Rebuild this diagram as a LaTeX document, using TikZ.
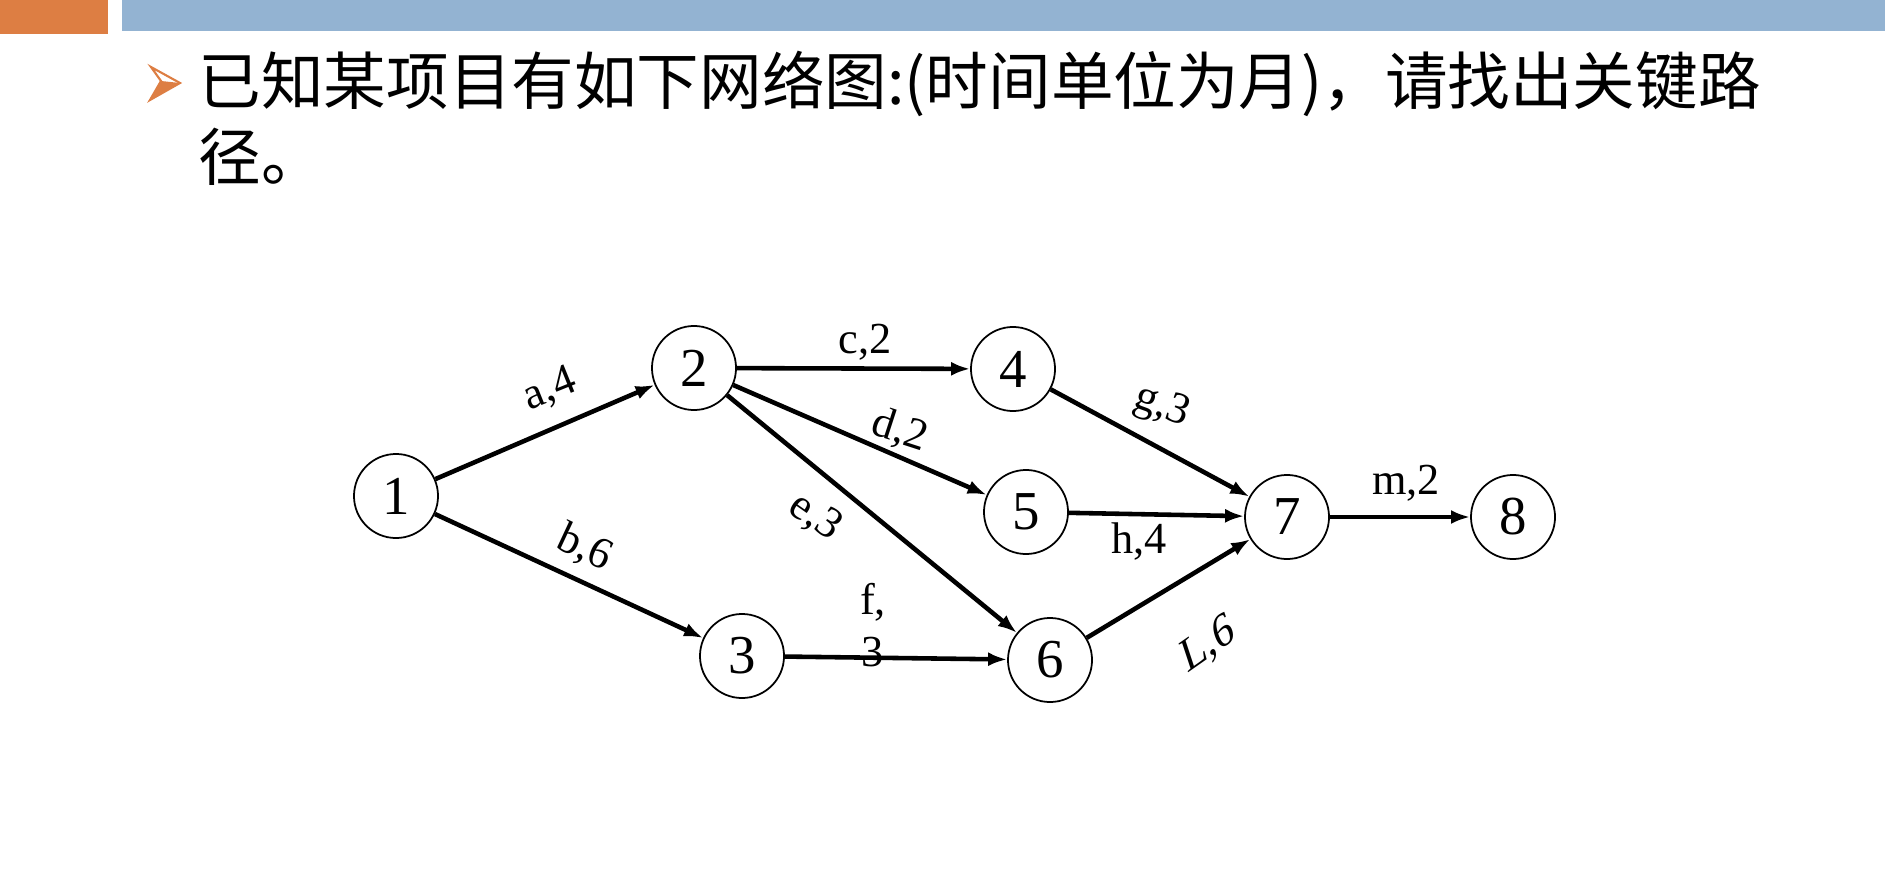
\documentclass[tikz,border=0pt]{standalone}
\usepackage{fontspec}
\setmainfont{Liberation Serif}
\newfontfamily\cjkfont{Noto Sans CJK SC}
\usepackage{xcolor}
\usetikzlibrary{arrows.meta}
\definecolor{barblue}{HTML}{93B3D2}
\definecolor{barorange}{HTML}{DD7E43}

\begin{document}
\begin{tikzpicture}[x=0.01cm, y=-0.01cm,
  event/.style={draw, circle, line width=0.5pt, minimum size=0.84cm, inner sep=0pt,
     font=\fontsize{15.6}{16}\selectfont},
  act/.style={-{Latex[length=0.19cm,width=0.14cm]}, line width=1.3pt},
  lbl/.style={font=\fontsize{12.6}{15}\selectfont, inner sep=1pt}]
\useasboundingbox (0,0) rectangle (1885,882);
% title bar
\fill[barorange] (0,0) rectangle (108,34);
\fill[barblue] (122,0) rectangle (1885,31);
\draw[barorange, line width=0.6pt, line join=miter] (151,67) -- (180,83) -- (150,100) -- (161,81) -- cycle;
\fill[barorange] (161,81) -- (180,83) -- (150,100) -- cycle;
\node[anchor=north west, align=left, inner sep=0pt,
      font=\cjkfont\fontsize{17.8}{21.6}\selectfont] (title) at (198,50)
  {已知某项目有如下网络图:(时间单位为月)，请找出关键路\\径。};
% events
\node[event] (n1) at (396,496)  {1};
\node[event] (n2) at (694,368)  {2};
\node[event] (n3) at (742,656)  {3};
\node[event] (n4) at (1013,369) {4};
\node[event] (n5) at (1026,512) {5};
\node[event] (n6) at (1050,660) {6};
\node[event] (n7) at (1287,517) {7};
\node[event] (n8) at (1513,517) {8};
% activities
\draw[act] (n1) -- (n2);
\draw[act] (n1) -- (n3);
\draw[act] (n2) -- (n4);
\draw[act] (n2) -- (n5);
\draw[act] (n2) -- (n6);
\draw[act] (n3) -- (n6);
\draw[act] (n4) -- (n7);
\draw[act] (n5) -- (n7);
\draw[act] (n6) -- (n7);
\draw[act] (n7) -- (n8);
% activity labels
\node[lbl, rotate=22]  (la) at (550,390)  {a,4};
\node[lbl, rotate=-25] (lb) at (585,548)  {b,6};
\node[lbl]             (lc) at (865,342)  {c,2};
\node[lbl, rotate=-18] (ld) at (900,431)  {d,2};
\node[lbl, rotate=-35] (le) at (815,517)  {e,3};
\node[lbl, align=center] (lf) at (873,625) {f,\\3};
\node[lbl, rotate=-20] (lg) at (1162,407) {g,3};
\node[lbl]             (lh) at (1139,542) {h,4};
\node[lbl, rotate=35, xslant=0.3] (ll) at (1208,645) {L,6};
\node[lbl]             (lm) at (1406,483) {m,2};
\end{tikzpicture}
\end{document}
